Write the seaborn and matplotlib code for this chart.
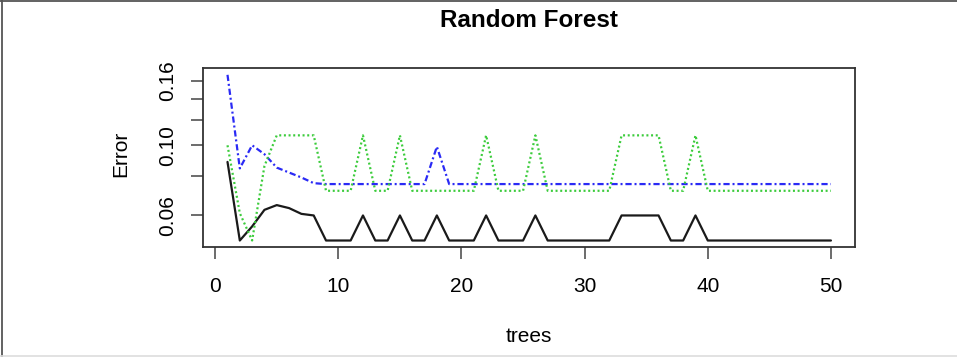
import matplotlib
matplotlib.use("Agg")
import matplotlib.pyplot as plt
from matplotlib.lines import Line2D
import pandas as pd
import seaborn as sns

# number of trees (x axis)
trees = [1, 2, 3, 4, 5, 6, 7, 8, 9, 10,
         11, 12, 13, 14, 15, 16, 17, 18, 19, 20,
         21, 22, 23, 24, 25, 26, 27, 28, 29, 30,
         31, 32, 33, 34, 35, 36, 37, 38, 39, 40,
         41, 42, 43, 44, 45, 46, 47, 48, 49, 50]

# OOB error (black solid)
oob_err = [0.0886, 0.050, 0.0554, 0.0625, 0.0647, 0.0633, 0.0607, 0.060, 0.050, 0.050,
           0.050, 0.060, 0.050, 0.050, 0.060, 0.050, 0.050, 0.060, 0.050, 0.050,
           0.050, 0.060, 0.050, 0.050, 0.050, 0.060, 0.050, 0.050, 0.050, 0.050,
           0.050, 0.050, 0.060, 0.060, 0.060, 0.060, 0.050, 0.050, 0.060, 0.050,
           0.050, 0.050, 0.050, 0.050, 0.050, 0.050, 0.050, 0.050, 0.050, 0.050]

# class 1 error (blue dot-dash)
class1_err = [0.167, 0.0845, 0.100, 0.0937, 0.085, 0.082, 0.0791, 0.0759, 0.0754, 0.0754,
              0.0754, 0.0754, 0.0754, 0.0754, 0.0754, 0.0754, 0.0754, 0.099, 0.0754, 0.0754,
              0.0754, 0.0754, 0.0754, 0.0754, 0.0754, 0.0754, 0.0754, 0.0754, 0.0754, 0.0754,
              0.0754, 0.0754, 0.0754, 0.0754, 0.0754, 0.0754, 0.0754, 0.0754, 0.0754, 0.0754,
              0.0754, 0.0754, 0.0754, 0.0754, 0.0754, 0.0754, 0.0754, 0.0754, 0.0754, 0.0754]

# class 2 error (green dotted)
class2_err = [0.100, 0.061, 0.050, 0.086, 0.1075, 0.1075, 0.1075, 0.1075, 0.0718, 0.0718,
              0.0718, 0.1075, 0.0718, 0.0718, 0.1075, 0.0718, 0.0718, 0.0718, 0.0718, 0.0718,
              0.0718, 0.1075, 0.0718, 0.0718, 0.0718, 0.1075, 0.0718, 0.0718, 0.0718, 0.0718,
              0.0718, 0.0718, 0.1075, 0.1075, 0.1075, 0.1075, 0.0718, 0.0718, 0.1075, 0.0718,
              0.0718, 0.0718, 0.0718, 0.0718, 0.0718, 0.0718, 0.0718, 0.0718, 0.0718, 0.0718]

series_names = ["OOB", "1", "2"]
x_ticks = [0, 10, 20, 30, 40, 50]
y_ticks = [0.06, 0.08, 0.10, 0.12, 0.14, 0.16]
y_tick_labels = ["0.06", "", "0.10", "", "", "0.16"]

sns.set_theme(style="white")
plt.rcParams["font.family"] = ["Liberation Sans", "DejaVu Sans"]
plt.rcParams["text.color"] = "black"
plt.rcParams["axes.labelcolor"] = "black"
plt.rcParams["axes.titlecolor"] = "black"

df = pd.concat([
    pd.DataFrame({"trees": trees, "error": vals, "series": name})
    for name, vals in zip(series_names, [oob_err, class1_err, class2_err])
], ignore_index=True)

fig = plt.figure(figsize=(9.57, 3.57), dpi=100)
ax = fig.add_axes([0.2125, 0.309, 0.681, 0.5005])

sns.lineplot(
    data=df, x="trees", y="error",
    hue="series", style="series",
    hue_order=series_names, style_order=series_names,
    palette={"OOB": "#1a1a1a", "1": "#2a2af5", "2": "#3ccc3c"},
    dashes={"OOB": "", "1": (2.8, 1.3, 0.9, 1.3), "2": (0.9, 1.2)},
    linewidth=1.6, sort=False, legend=False, ax=ax,
)

ax.set_yscale("log")
ax.set_xlim(-0.96, 51.96)
ax.set_ylim(0.0478, 0.1755)
ax.set_xticks(x_ticks)
ax.set_xticklabels([str(t) for t in x_ticks])
ax.set_yticks(y_ticks)
ax.set_yticklabels(y_tick_labels)
ax.yaxis.set_minor_locator(matplotlib.ticker.NullLocator())

for side in ["left", "right", "top", "bottom"]:
    ax.spines[side].set_color("#333333")
    ax.spines[side].set_linewidth(1.3)

ax.tick_params(axis="both", which="major", direction="out", length=8.5,
               width=1.1, color="#444444", labelsize=15, labelcolor="black",
               bottom=True, left=True)
ax.tick_params(axis="x", pad=13)
ax.tick_params(axis="y", pad=10.5)
for lab in ax.get_yticklabels():
    lab.set_rotation(90)
    lab.set_va("center")
    lab.set_ha("right")

ax.set_title("Random Forest", fontsize=17.5, fontweight="bold", pad=29.5, color="black")
ax.set_xlabel("trees", fontsize=15)
ax.set_ylabel("Error", fontsize=15)
ax.xaxis.set_label_coords(0.5, -0.448)
ax.yaxis.set_label_coords(-0.112, 0.52)
ax.grid(False)

# thin frame around the whole picture
fig.add_artist(Line2D([0.0, 1.0], [0.996, 0.996], transform=fig.transFigure, color="#555555", lw=1.3))
fig.add_artist(Line2D([0.0025, 0.0025], [0.0, 1.0], transform=fig.transFigure, color="#555555", lw=1.3))
fig.add_artist(Line2D([0.0, 1.0], [0.003, 0.003], transform=fig.transFigure, color="#dddddd", lw=1.2))

fig.savefig("out.png", dpi=100)
